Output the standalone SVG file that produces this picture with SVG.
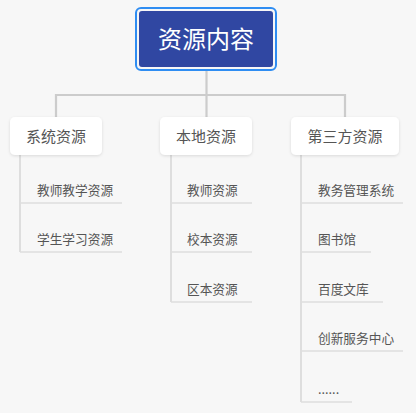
<svg xmlns="http://www.w3.org/2000/svg" width="416" height="413" viewBox="0 0 416 413">
<defs>
<filter id="sh" x="-20%" y="-30%" width="140%" height="170%">
<feDropShadow dx="0" dy="1" stdDeviation="1.5" flood-color="#000" flood-opacity="0.12"/>
</filter>
</defs>
<style>
text{font-family:"Noto Sans CJK SC","Noto Sans",sans-serif;}
.l1 rect{fill:#fff;filter:url(#sh);}
.l1 text{font-size:15px;fill:#555;text-anchor:middle;}
.c text{font-size:12.7px;fill:#555;}
.c line{stroke:#dedede;stroke-width:1.6;}
.conn path{fill:none;stroke:#cccccc;stroke-width:2.2;}
.conn line{stroke:#dedede;stroke-width:2;}
</style>
<rect width="416" height="413" fill="#f7f7f7"/>
<g class="conn">
<path d="M206.5 70 V95 M56 109 V95 H345 V117 M206.5 95 V117"/>
<path d="M56 117 V109"/>
<line x1="20" y1="155" x2="20" y2="252"/>
<line x1="171" y1="155" x2="171" y2="302"/>
<line x1="301" y1="155" x2="301" y2="402"/>
</g>
<g id="root">
<rect x="136" y="8" width="140" height="62" rx="5" fill="none" stroke="#2f8df2" stroke-width="2"/>
<rect x="139" y="11" width="134" height="56" rx="3" fill="#3047a2"/>
<text x="206" y="48" font-size="24" fill="#fff" text-anchor="middle">资源内容</text>
</g>
<g id="n-sys" class="l1"><rect x="10" y="117" width="92" height="38" rx="5"/><text x="56" y="142">系统资源</text></g>
<g id="n-local" class="l1"><rect x="160" y="117" width="92" height="38" rx="5"/><text x="206" y="142">本地资源</text></g>
<g id="n-third" class="l1"><rect x="291" y="117" width="108" height="38" rx="5"/><text x="345" y="142">第三方资源</text></g>
<g id="c1" class="c"><text x="37" y="195">教师教学资源</text><line x1="20" y1="203" x2="122" y2="203"/></g>
<g id="c2" class="c"><text x="37" y="244">学生学习资源</text><line x1="20" y1="252" x2="122" y2="252"/></g>
<g id="c3" class="c"><text x="187" y="195">教师资源</text><line x1="171" y1="203" x2="252" y2="203"/></g>
<g id="c4" class="c"><text x="187" y="244">校本资源</text><line x1="171" y1="252" x2="252" y2="252"/></g>
<g id="c5" class="c"><text x="187" y="294">区本资源</text><line x1="171" y1="302" x2="252" y2="302"/></g>
<g id="c6" class="c"><text x="318" y="195">教务管理系统</text><line x1="301" y1="203" x2="403" y2="203"/></g>
<g id="c7" class="c"><text x="318" y="244">图书馆</text><line x1="301" y1="252" x2="371" y2="252"/></g>
<g id="c8" class="c"><text x="318" y="294">百度文库</text><line x1="301" y1="302" x2="383" y2="302"/></g>
<g id="c9" class="c"><text x="318" y="343">创新服务中心</text><line x1="301" y1="351" x2="403" y2="351"/></g>
<g id="c10" class="c"><text x="318" y="394">......</text><line x1="301" y1="402" x2="352" y2="402"/></g>
</svg>
